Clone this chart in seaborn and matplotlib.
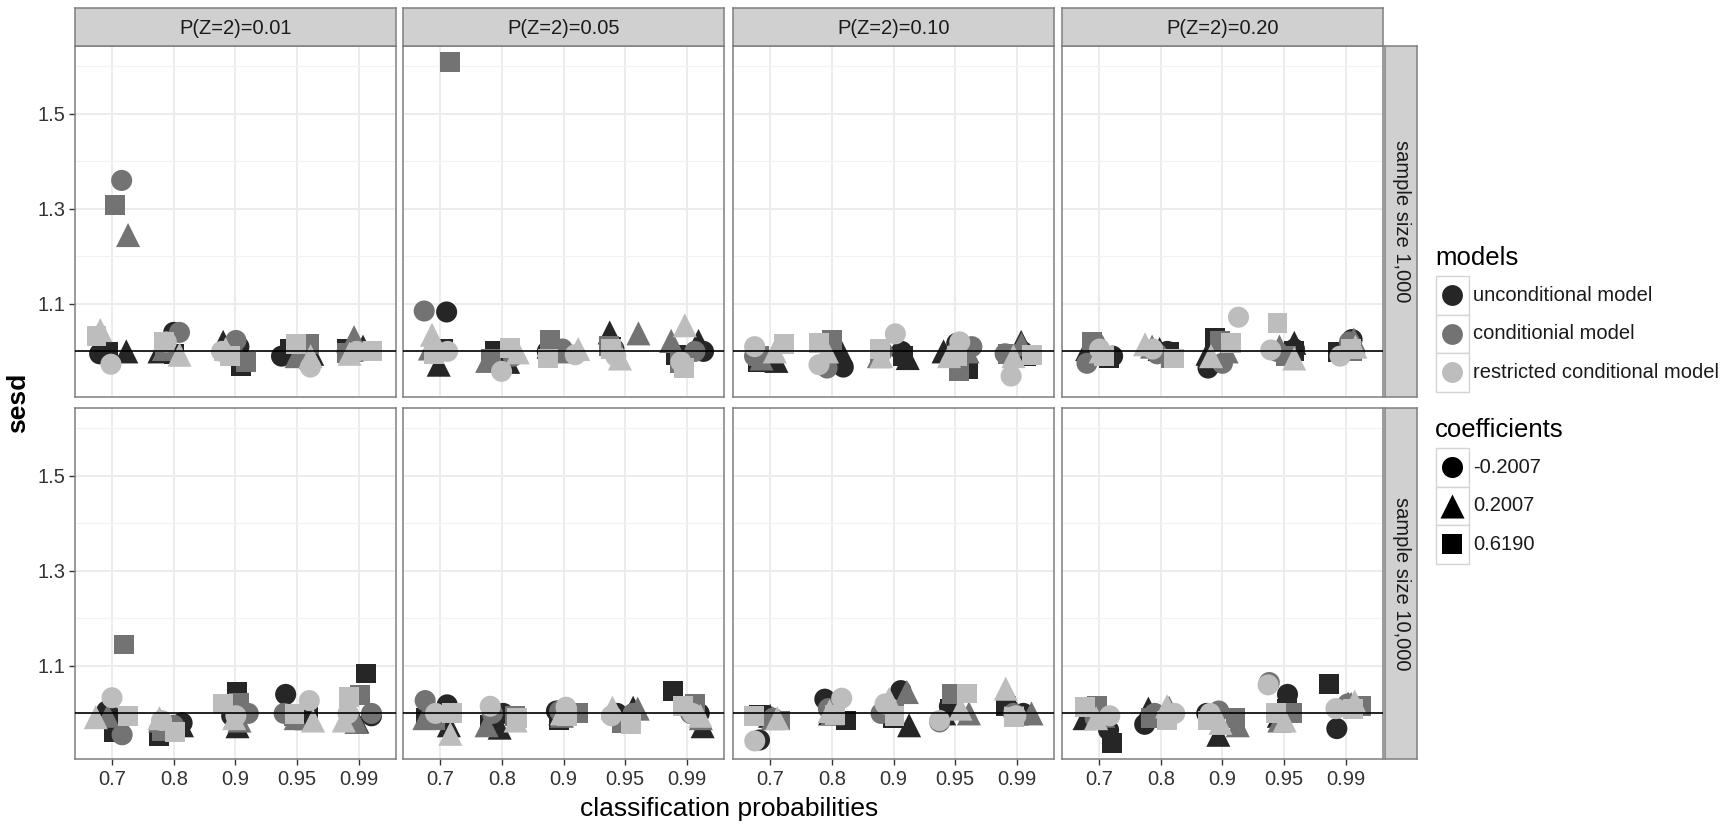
import numpy as np
import pandas as pd
import matplotlib
matplotlib.use("Agg")
import matplotlib.pyplot as plt
import seaborn as sns
from matplotlib.patches import Rectangle

# ---------------- data ----------------
probs = ["0.7", "0.8", "0.9", "0.95", "0.99"]
pz_labels = ["P(Z=2)=0.01", "P(Z=2)=0.05", "P(Z=2)=0.10", "P(Z=2)=0.20"]
size_labels = ["sample size 1,000", "sample size 10,000"]
models = ["unconditional model", "conditionial model", "restricted conditional model"]
coefs = ["-0.2007", "0.2007", "0.6190"]

# rows: coefficient (-0.2007, 0.2007, 0.6190); columns: classification probability
unc_1k_p01 = [[.995, 1.04, 1.01, .99, 1.0], [1.0, 1.0, 1.02, .995, 1.01], [.998, .995, .97, 1.005, 1.005]]
cond_1k_p01 = [[1.36, 1.04, 1.023, .977, 1.0], [1.245, 1.005, 1.0, .99, 1.03], [1.309, 1.0, .978, 1.015, .996]]
restr_1k_p01 = [[.973, 1.02, 1.0, .967, 1.0], [1.045, .993, 1.005, .99, .995], [1.032, 1.02, .99, 1.015, 1.0]]

unc_1k_p05 = [[1.083, .99, 1.0, 1.005, 1.0], [.972, .978, 1.01, 1.04, 1.022], [1.005, 1.0, .998, 1.01, .993]]
cond_1k_p05 = [[1.085, .99, 1.005, 1.005, 1.0], [1.006, .98, 1.0, 1.038, 1.022], [1.609, .985, 1.025, 1.012, .975]]
restr_1k_p05 = [[1.0, .958, .993, .99, .978], [1.035, .998, 1.005, .985, 1.055], [.995, 1.008, .985, 1.005, .965]]

unc_1k_p10 = [[.985, .967, 1.0, 1.017, 1.0], [.98, 1.0, .986, 1.0, 1.02], [.978, 1.0, .99, .962, .99]]
cond_1k_p10 = [[.99, .965, 1.0, 1.01, .995], [.985, 1.0, .99, 1.0, 1.015], [.99, 1.024, .995, .958, .995]]
restr_1k_p10 = [[1.01, .972, 1.037, 1.02, .948], [1.0, 1.0, .99, .99, .99], [1.015, 1.018, 1.005, .99, .993]]

unc_1k_p20 = [[.99, 1.0, .965, 1.005, 1.025], [1.005, 1.005, .995, 1.018, 1.02], [.985, .998, 1.028, 1.0, .998]]
cond_1k_p20 = [[.975, .995, .975, 1.0, 1.02], [1.01, 1.01, 1.0, 1.01, 1.025], [1.02, .985, 1.022, .99, 1.0]]
restr_1k_p20 = [[1.005, 1.005, 1.072, 1.003, .99], [1.0, 1.015, .99, .985, 1.01], [.99, .985, 1.018, 1.06, 1.005]]

unc_10k_p01 = [[1.005, .98, .995, 1.04, .995], [.99, .975, .973, .99, .983], [.96, .952, 1.045, .998, 1.084]]
cond_10k_p01 = [[.955, .975, 1.0, 1.0, 1.0], [.995, .985, .985, .99, .982], [1.145, .962, 1.023, .995, 1.038]]
restr_10k_p01 = [[1.033, .985, .995, 1.027, 1.0], [.992, .99, .99, .985, .985], [.995, .96, 1.02, .998, 1.035]]

unc_10k_p05 = [[1.018, 1.0, 1.005, 1.0, 1.0], [.975, .97, 1.0, 1.012, .973], [.99, .975, .985, .985, 1.048]]
cond_10k_p05 = [[1.027, 1.0, 1.005, 1.0, 1.0], [.99, .975, .995, 1.01, .99], [.985, .995, 1.0, .98, 1.02]]
restr_10k_p05 = [[1.0, 1.015, 1.013, .995, 1.0], [.957, .985, 1.0, 1.012, .995], [1.0, .99, .995, .977, 1.015]]

unc_10k_p10 = [[.944, 1.03, 1.048, 1.015, 1.0], [.995, 1.0, .975, 1.0, 1.0], [.996, .985, .99, 1.01, 1.015]]
cond_10k_p10 = [[.99, 1.01, 1.0, .982, 1.0], [.99, 1.0, 1.045, 1.0, 1.0], [.985, 1.0, 1.0, 1.04, .995]]
restr_10k_p10 = [[.942, 1.032, 1.02, .985, .995], [.99, 1.005, 1.03, 1.01, 1.052], [.995, .996, .995, 1.042, .993]]

unc_10k_p20 = [[.965, .977, 1.0, 1.04, .968], [.99, 1.01, .955, .995, 1.02], [.938, .99, .995, 1.01, 1.061]]
cond_10k_p20 = [[.99, 1.0, 1.005, 1.065, 1.02], [.995, 1.012, .975, .985, 1.02], [1.015, .99, .99, 1.0, 1.015]]
restr_10k_p20 = [[.995, 1.0, 1.0, 1.06, 1.01], [.99, 1.015, .98, .985, 1.025], [1.013, .985, .985, 1.0, 1.01]]

panel_data = {
    (0, 0): [unc_1k_p01, cond_1k_p01, restr_1k_p01],
    (0, 1): [unc_1k_p05, cond_1k_p05, restr_1k_p05],
    (0, 2): [unc_1k_p10, cond_1k_p10, restr_1k_p10],
    (0, 3): [unc_1k_p20, cond_1k_p20, restr_1k_p20],
    (1, 0): [unc_10k_p01, cond_10k_p01, restr_10k_p01],
    (1, 1): [unc_10k_p05, cond_10k_p05, restr_10k_p05],
    (1, 2): [unc_10k_p10, cond_10k_p10, restr_10k_p10],
    (1, 3): [unc_10k_p20, cond_10k_p20, restr_10k_p20],
}

rows = []
for (r, c), mlist in panel_data.items():
    for mi, arr in enumerate(mlist):
        for ci, vals in enumerate(arr):
            for pi, v in enumerate(vals):
                rows.append(dict(row=r, col=c, model=models[mi], coef=coefs[ci],
                                 prob=probs[pi], pidx=pi, sesd=v))
df = pd.DataFrame(rows)
rng = np.random.default_rng(11)
df["xj"] = df["pidx"] + rng.uniform(-0.27, 0.27, len(df))

# ---------------- style ----------------
sns.set_theme(style="white")
plt.rcParams["font.family"] = ["Liberation Sans", "DejaVu Sans"]

palette = {models[0]: "#262626", models[1]: "#737373", models[2]: "#bdbdbd"}
marker_map = {coefs[0]: "o", coefs[1]: "^", coefs[2]: "s"}
size_map = {coefs[0]: 230, coefs[1]: 300, coefs[2]: 205}

W, H = 1733, 824
fig = plt.figure(figsize=(W / 100, H / 100), dpi=100)
fig.patch.set_facecolor("white")


def box(x0, y0, w, h):
    return [x0 / W, 1 - (y0 + h) / H, w / W, h / H]


panel_left = [75, 403, 733, 1062]
pw = 321
row_top = [46, 408]
ph = 351
border = "#7f7f7f"
ylim = (0.904, 1.643)

for (r, c), _ in panel_data.items():
    ax = fig.add_axes(box(panel_left[c], row_top[r], pw, ph))
    sub = df[(df.row == r) & (df.col == c)]
    ax.set_axisbelow(True)
    ax.set_yticks([1.0, 1.2, 1.4, 1.6], minor=True)
    ax.set_yticks([1.1, 1.3, 1.5])
    ax.set_xticks(range(len(probs)))
    ax.grid(True, which="major", color="#ebebeb", lw=1.3)
    ax.grid(True, which="minor", axis="y", color="#f2f2f2", lw=0.8)
    sns.scatterplot(data=sub, x="xj", y="sesd", hue="model", style="coef",
                    size="coef", sizes=size_map, size_order=coefs,
                    hue_order=models, style_order=coefs, palette=palette,
                    markers=marker_map, linewidth=0, legend=False,
                    ax=ax, zorder=3)
    ax.axhline(1.0, color="black", lw=1.2, zorder=6)
    ax.set_xlim(-0.6, 4.6)
    ax.set_ylim(*ylim)
    ax.set_xlabel("")
    ax.set_ylabel("")
    for s in ax.spines.values():
        s.set_color(border)
        s.set_linewidth(1.1)
        s.set_visible(True)
    ax.tick_params(axis="both", which="minor", length=0)
    if c == 0:
        ax.set_yticklabels(["1.1", "1.3", "1.5"])
        ax.tick_params(axis="y", which="major", length=4, width=1, color="#333333",
                       labelsize=14.5, labelcolor="#333333", pad=3, left=True)
    else:
        ax.tick_params(axis="y", which="major", length=0, labelleft=False)
    if r == 1:
        ax.set_xticklabels(probs)
        ax.tick_params(axis="x", which="major", length=4, width=1, color="#333333",
                       labelsize=14.5, labelcolor="#333333", pad=4, bottom=True)
    else:
        ax.tick_params(axis="x", which="major", length=0, labelbottom=False)

# top strips
for c in range(4):
    sax = fig.add_axes(box(panel_left[c], 8, pw, 38))
    sax.set_facecolor("#d0d0d0")
    sax.set_xticks([]); sax.set_yticks([])
    for s in sax.spines.values():
        s.set_color(border); s.set_linewidth(1.1)
    sax.text(0.5, 0.47, pz_labels[c], ha="center", va="center", fontsize=14.5,
             color="#1a1a1a", transform=sax.transAxes)

# right strips
for r in range(2):
    sax = fig.add_axes(box(1385, row_top[r], 32, ph))
    sax.set_facecolor("#d0d0d0")
    sax.set_xticks([]); sax.set_yticks([])
    for s in sax.spines.values():
        s.set_color(border); s.set_linewidth(1.1)
    sax.text(0.5, 0.5, size_labels[r], ha="center", va="center", fontsize=14.5,
             color="#1a1a1a", rotation=-90, transform=sax.transAxes)

# axis titles
fig.text(729 / W, 1 - 809 / H, "classification probabilities", ha="center",
         va="center", fontsize=19, color="black")
fig.text(18 / W, 1 - 403 / H, "sesd", ha="center", va="center", fontsize=19,
         fontweight="bold", rotation=90, color="black")

# legend (drawn in a pixel-space overlay)
lax = fig.add_axes([0, 0, 1, 1], facecolor="none")
lax.set_xlim(0, W); lax.set_ylim(H, 0); lax.axis("off")

key_x, key_w, key_h = 1436, 33, 38.5
lax.text(key_x - 1, 258, "models", ha="left", va="center", fontsize=18.5, color="black")
for i, m in enumerate(models):
    y0 = 276 + i * key_h
    lax.add_patch(Rectangle((key_x, y0), key_w, key_h, facecolor="white",
                            edgecolor="#d4d4d4", lw=1.0))
    lax.scatter([key_x + key_w / 2], [y0 + key_h / 2], s=225, color=palette[m],
                marker="o", linewidths=0)
    lax.text(key_x + key_w + 4, y0 + key_h / 2, m, ha="left", va="center",
             fontsize=14.5, color="#1a1a1a")

lax.text(key_x - 1, 430, "coefficients", ha="left", va="center", fontsize=18.5, color="black")
for i, cf in enumerate(coefs):
    y0 = 448 + i * key_h
    lax.add_patch(Rectangle((key_x, y0), key_w, key_h, facecolor="white",
                            edgecolor="#d4d4d4", lw=1.0))
    lax.scatter([key_x + key_w / 2], [y0 + key_h / 2], s=size_map[cf], color="black",
                marker=marker_map[cf], linewidths=0)
    lax.text(key_x + key_w + 4, y0 + key_h / 2, cf, ha="left", va="center",
             fontsize=14.5, color="#1a1a1a")

fig.savefig("out.png", dpi=100, facecolor="white")
